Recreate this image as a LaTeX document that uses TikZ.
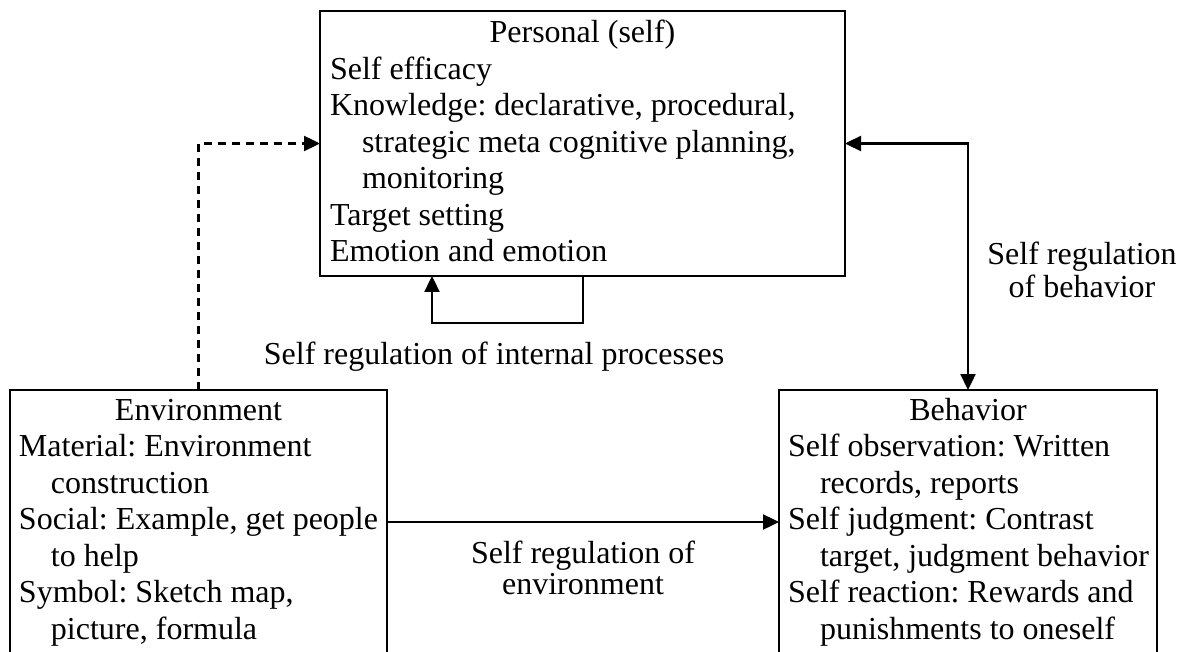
\documentclass[tikz,border=0pt]{standalone}
\usepackage{fontspec}
\setmainfont{Liberation Serif}
\usetikzlibrary{arrows.meta}
\frenchspacing
\newcommand{\bodyfont}{\fontsize{32}{36.5}\selectfont}
\newcommand{\labfont}{\fontsize{32}{31.5}\selectfont}
\newcommand{\hng}{\hangindent=32pt\hangafter=1 }
% #1 = width over which the title is centred, #2 = title, #3 = entries
\newcommand{\boxtext}[3]{\parbox[t]{560pt}{\raggedright\parindent=0pt\frenchspacing
  \makebox[#1]{\strut #2}\par #3}}
\newcommand{\labtext}[1]{\parbox[t]{500pt}{\centering\frenchspacing\strut #1}}
\tikzset{
  box/.style={draw, line width=1.8pt, inner sep=0pt, outer sep=0pt, anchor=north west},
  txt/.style={inner sep=0pt, outer sep=0pt, anchor=north west, font=\bodyfont},
  lab/.style={inner sep=0pt, outer sep=0pt, anchor=north, font=\labfont},
  tip/.tip={Triangle[length=16pt,width=15pt]},
  conn/.style={line width=2.4pt, -tip},
  dconn/.style={line width=2.4pt, tip-tip},
  dashconn/.style={line width=2.4pt, -tip, dash pattern=on 8pt off 6pt}
}
\begin{document}
\begin{tikzpicture}[x=1pt,y=-1pt]
\useasboundingbox (0,0) rectangle (1186,652);
\fill[white] (0,0) rectangle (1186,652);
% boxes
\node[box, minimum width=525pt, minimum height=265pt] (pers) at (320,11) {};
\node[box, minimum width=377pt, minimum height=264pt] (env) at (10,390) {};
\node[box, minimum width=378pt, minimum height=264pt] (beh) at (779,390) {};
% box texts
\node[txt] (perst) at (330,17.45) {\boxtext{505pt}{Personal (self)}{%
  Self efficacy\par
  \hng Knowledge: declarative, procedural,\newline strategic meta cognitive planning,\newline monitoring\par
  Target setting\par
  Emotion and emotion\par}};
\node[txt] (envt) at (19,394.45) {\boxtext{359pt}{Environment}{%
  \hng Material: Environment\newline construction\par
  \hng Social: Example, get people\newline to help\par
  \hng Symbol: Sketch map,\newline picture, formula\par}};
\node[txt] (beht) at (788,394.45) {\boxtext{360pt}{Behavior}{%
  \hng Self observation: Written\newline records, reports\par
  \hng Self judgment: Contrast\newline target, judgment behavior\par
  \hng Self reaction: Rewards and\newline punishments to oneself\par}};
% connectors
\coordinate (loopR) at (583,323);
\coordinate (loopL) at (432,323);
\draw[conn] (pers.south -| loopR) -- (loopR) -- (loopL) -- (pers.south -| loopL);
\draw[dashconn] (env.north) |- (pers.west);
\draw[dconn] (pers.east) -| (beh.north);
\draw[conn] (env.east) -- (beh.west);
% labels
\node[lab] (lint) at (494,342.45) {\labtext{Self regulation of internal processes}};
\node[lab] (lenv) at (583,540.95) {\labtext{Self regulation of\\environment}};
\node[lab] (lbeh) at (1082,242.45) {\labtext{Self regulation\\of behavior}};
\end{tikzpicture}
\end{document}
